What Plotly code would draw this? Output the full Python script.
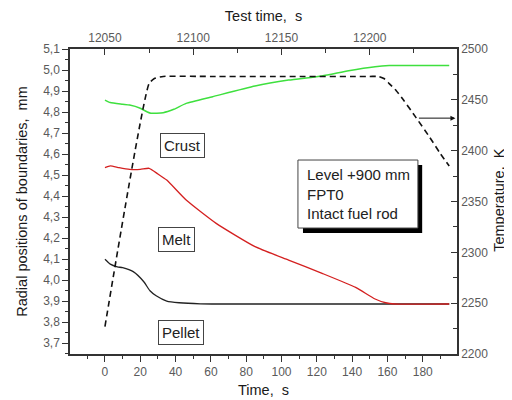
import plotly.graph_objects as go

# ---- data ----
crust_t = [0, 3, 10, 14, 20, 24, 26, 33, 39, 46, 61, 85, 104, 123, 138, 153, 161, 195]
crust_r = [4.857, 4.845, 4.837, 4.833, 4.818, 4.800, 4.794, 4.797, 4.813, 4.841, 4.873,
           4.924, 4.952, 4.972, 4.997, 5.016, 5.021, 5.021]

melt_t = [0, 3, 8, 14, 20, 25, 30, 35, 46, 63, 85, 104, 123, 142, 153, 159, 164, 195]
melt_r = [4.535, 4.544, 4.535, 4.527, 4.527, 4.532, 4.505, 4.476, 4.381, 4.270, 4.159,
          4.095, 4.032, 3.965, 3.910, 3.892, 3.886, 3.886]

pellet_t = [0, 3, 7, 10, 16, 22, 25.5, 29, 35, 42, 54, 100, 195]
pellet_r = [4.099, 4.076, 4.063, 4.059, 4.040, 3.992, 3.949, 3.925, 3.900, 3.892, 3.887, 3.886, 3.886]

temp_t = [0, 25, 28, 33, 60, 100, 150, 155, 158, 161, 165, 169, 176, 184, 190, 195]
temp_K = [2227, 2466, 2471, 2473, 2473, 2473, 2473, 2473, 2471, 2466, 2459, 2450, 2433,
          2413, 2397, 2385]

left_ticks = [3.7, 3.8, 3.9, 4.0, 4.1, 4.2, 4.3, 4.4, 4.5, 4.6, 4.7, 4.8, 4.9, 5.0, 5.1]
left_ticktext = [f"{v:.1f}".replace(".", ",") for v in left_ticks]

test_time_offset = 12050
labels = ["Crust", "Melt", "Pellet"]
label_pos_t = [44.2, 40.8, 43.0]
label_pos_r = [4.643, 4.195, 3.752]
info_text = "Level +900 mm<br>FPT0<br>Intact fuel rod"

FONT = "Liberation Sans, Arial, sans-serif"
TICKC = "#5a5a5a"
AXC = "#333333"
TITLEC = "#1a1a1a"
TS = 14.5
SP = " \u00a0"

fig = go.Figure()
fig.add_trace(go.Scatter(x=pellet_t, y=pellet_r, mode="lines", line=dict(color="#222222", width=1.3, shape="spline", smoothing=0.6), showlegend=False))
fig.add_trace(go.Scatter(x=melt_t, y=melt_r, mode="lines", line=dict(color="#d42020", width=1.3, shape="spline", smoothing=0.5), showlegend=False))
fig.add_trace(go.Scatter(x=crust_t, y=crust_r, mode="lines", line=dict(color="#3ee03e", width=1.5, shape="spline", smoothing=0.5), showlegend=False))
fig.add_trace(go.Scatter(x=temp_t, y=temp_K, mode="lines", yaxis="y2",
                         line=dict(color="#111111", width=1.6, dash="6px,4px", shape="spline", smoothing=0.5),
                         showlegend=False))
# empty trace to bind the top axis
fig.add_trace(go.Scatter(x=[], y=[], xaxis="x2", yaxis="y", showlegend=False, hoverinfo="skip"))

xmin, xmax = -19.8, 199.4
fig.update_layout(
    width=504, height=392,
    margin=dict(l=62, r=55, t=41, b=46),
    paper_bgcolor="white", plot_bgcolor="white",
    font=dict(family=FONT, size=12, color=TICKC),
    xaxis=dict(range=[xmin, xmax], dtick=20, tick0=0, ticks="outside", ticklen=6, tickwidth=1.2,
               tickcolor=AXC, showline=True, linecolor=AXC, linewidth=1.5, showgrid=False, zeroline=False,
               minor=dict(dtick=10, ticks="outside", ticklen=3, tickcolor=AXC, showgrid=False),
               tickfont=dict(size=12, color=TICKC), automargin=False,
               title=dict(text="Time," + SP + "s", font=dict(size=TS, color=TITLEC), standoff=7)),
    xaxis2=dict(range=[xmin + test_time_offset, xmax + test_time_offset], overlaying="x", side="top",
                anchor="y", dtick=50, tick0=12050, ticks="inside", ticklen=6, tickwidth=1.2, tickcolor=AXC,
                showline=True, linecolor=AXC, linewidth=1.5, showgrid=False, zeroline=False,
                minor=dict(dtick=25, ticks="inside", ticklen=4, tickcolor=AXC, showgrid=False),
                tickformat="d", tickfont=dict(size=12, color=TICKC), automargin=False,
                title=dict(text="Test time," + SP + "s", font=dict(size=TS, color=TITLEC), standoff=8)),
    yaxis=dict(range=[3.648, 5.1], tickvals=left_ticks, ticktext=left_ticktext, ticks="outside",
               ticklen=6, tickwidth=1.2, tickcolor=AXC, showline=True, linecolor=AXC, linewidth=1.5,
               showgrid=False, zeroline=False, automargin=False,
               minor=dict(dtick=0.05, ticks="outside", ticklen=3, tickcolor=AXC, showgrid=False),
               tickfont=dict(size=12, color=TICKC),
               title=dict(text="Radial positions of boundaries," + SP + "mm", font=dict(size=TS, color=TITLEC), standoff=12)),
    yaxis2=dict(range=[2200, 2500], overlaying="y", side="right", anchor="x", dtick=50, tick0=2200,
                ticks="inside", ticklen=6, tickwidth=1.2, tickcolor=AXC, showline=True, linecolor=AXC,
                linewidth=1.5, showgrid=False, zeroline=False, automargin=False,
                minor=dict(dtick=25, ticks="inside", ticklen=4, tickcolor=AXC, showgrid=False),
                tickformat="d", tickfont=dict(size=12, color=TICKC)),
)

# right axis title
fig.add_annotation(x=1.108, y=0.505, xref="paper", yref="paper", text="Temperature," + SP + "K",
                   textangle=-90, showarrow=False, xanchor="center", yanchor="middle",
                   font=dict(size=TS, color=TITLEC, family=FONT))

for txt, tx, ty in zip(labels, label_pos_t, label_pos_r):
    fig.add_annotation(x=tx, y=ty, xref="x", yref="y", text=txt, showarrow=False,
                       font=dict(size=15, color="#222222", family=FONT),
                       bordercolor="#444444", borderwidth=1, borderpad=3, bgcolor="white")

# info box with shadow
fig.add_shape(type="rect", xref="paper", yref="paper", x0=0.602, x1=0.910, y0=0.397, y1=0.620,
              fillcolor="black", line=dict(width=0))
fig.add_shape(type="rect", xref="paper", yref="paper", x0=0.589, x1=0.899, y0=0.413, y1=0.636,
              fillcolor="white", line=dict(color="#444444", width=1))
fig.add_annotation(x=0.607, y=0.525, xref="paper", yref="paper", text=info_text, showarrow=False,
                   xanchor="left", yanchor="middle", align="left",
                   font=dict(size=15, color="#222222", family=FONT))

# arrow pointing to the temperature axis
fig.add_annotation(x=198.5, y=2432, xref="x", yref="y2", ax=177, ay=2432, axref="x", ayref="y2",
                   text="", showarrow=True, arrowhead=2, arrowsize=1, arrowwidth=1, arrowcolor="#111111")

fig.write_html("out.html")
